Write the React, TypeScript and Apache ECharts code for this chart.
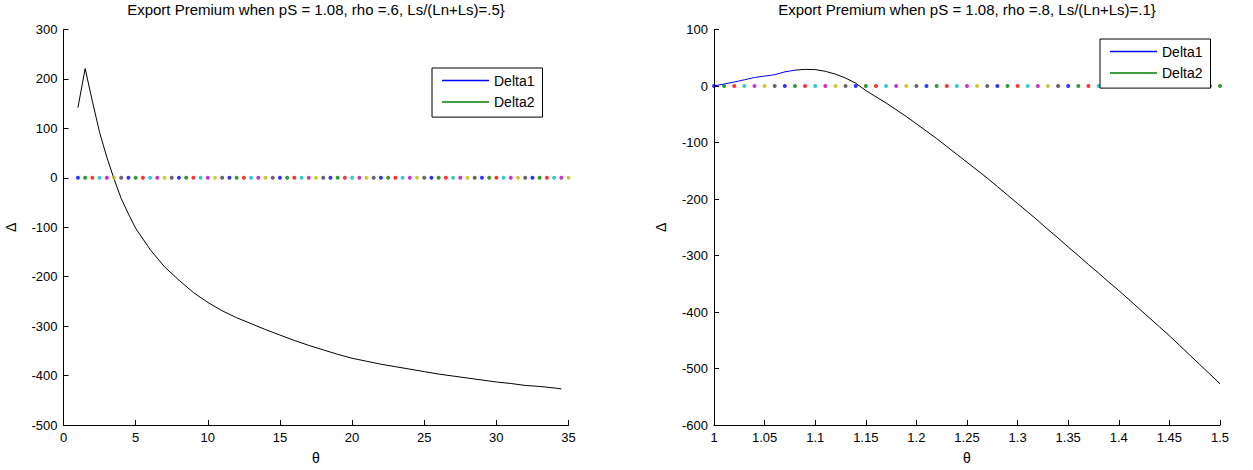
import React, { useEffect, useRef } from "react";
import * as echarts from "echarts";

// ---------- Data ----------
const leftTheta = [1, 1.5, 2, 2.5, 3, 3.5, 4, 4.5, 5, 6, 7, 8, 9, 10, 11, 12, 13, 14, 15, 16, 17, 18, 19, 20, 21, 22, 23, 24, 25, 26, 27, 28, 29, 30, 31, 32, 33, 34, 34.5];
const leftDelta = [142, 221, 155, 92, 42, -2, -42, -73, -102, -145, -180, -207, -232, -252, -269, -283, -295, -307, -318, -329, -339, -348, -357, -365, -371, -377, -382, -387, -392, -397, -401, -405, -409, -413, -416, -420, -422, -425, -427];

const rightBlueTheta = [1.0, 1.01, 1.02, 1.03, 1.04, 1.05, 1.06, 1.07, 1.08];
const rightBlueDelta = [0, 3.5, 7, 11, 15, 17.5, 20, 25, 28];

const rightTheta = [1.08, 1.09, 1.1, 1.11, 1.12, 1.13, 1.14, 1.15, 1.16, 1.17, 1.18, 1.19, 1.2, 1.21, 1.22, 1.23, 1.24, 1.25, 1.26, 1.27, 1.28, 1.29, 1.3, 1.31, 1.32, 1.33, 1.34, 1.35, 1.36, 1.37, 1.38, 1.39, 1.4, 1.41, 1.42, 1.43, 1.44, 1.45, 1.46, 1.47, 1.48, 1.49, 1.5];
const rightDelta = [28, 29.5, 29, 26, 21, 14, 5, -8, -19, -30, -42, -54, -67, -80, -93, -107, -121, -135, -149, -163, -178, -193, -208, -223, -238, -254, -269, -285, -300, -316, -331, -347, -362, -378, -394, -410, -426, -442, -459, -476, -493, -510, -527];

// Dotted zero-level markers (MATLAB 'bgrcmyk' colour order)
const dotColors = ["#0000ff", "#008000", "#ff0000", "#00bfbf", "#bf00bf", "#bfbf00", "#404040"];
const dotLevel = 0;
const leftDotStart = 1;
const leftDotStep = 0.5;
const leftDotCount = 69;
const rightDotStart = 1;
const rightDotStep = 0.01;
const rightDotCount = 51;

const leftXTicks = { min: 0, max: 35, interval: 5 };
const leftYTicks = { min: -500, max: 300, interval: 100 };
const rightXTicks = { min: 1, max: 1.5, interval: 0.05 };
const rightYTicks = { min: -600, max: 100, interval: 100 };

const leftTitle = "Export Premium when pS = 1.08, rho =.6, Ls/(Ln+Ls)=.5}";
const rightTitle = "Export Premium when pS = 1.08, rho =.8, Ls/(Ln+Ls)=.1}";
const legendNames = ["Delta1", "Delta2"];

const FONT = "'Liberation Sans', Arial, sans-serif";

function dots(start: number, step: number, count: number) {
  return Array.from({ length: count }, (_, i) => ({
    value: [Math.round((start + i * step) * 1000) / 1000, dotLevel],
    itemStyle: { color: dotColors[i % dotColors.length] },
  }));
}

function pairs(xs: number[], ys: number[]) {
  return xs.map((x, i) => [x, ys[i]]);
}

function xAxis(idx: number, t: { min: number; max: number; interval: number }, fmt?: (v: number) => string) {
  return {
    type: "value",
    gridIndex: idx,
    min: t.min,
    max: t.max,
    interval: t.interval,
    name: "θ",
    nameLocation: "middle",
    nameGap: 26,
    nameTextStyle: { fontSize: 14, color: "#000", fontFamily: FONT },
    splitLine: { show: false },
    axisLine: { show: true, onZero: false, lineStyle: { color: "#000", width: 1 } },
    axisTick: { show: true, inside: true, length: 5, lineStyle: { color: "#000" } },
    axisLabel: { color: "#000", fontSize: 13, fontFamily: FONT, margin: 6, formatter: fmt, showMinLabel: true, showMaxLabel: true },
  };
}

function yAxis(idx: number, t: { min: number; max: number; interval: number }) {
  return {
    type: "value",
    gridIndex: idx,
    min: t.min,
    max: t.max,
    interval: t.interval,
    name: "Δ",
    nameLocation: "middle",
    nameGap: 46,
    nameTextStyle: { fontSize: 14, color: "#000", fontFamily: FONT },
    splitLine: { show: false },
    axisLine: { show: true, onZero: false, lineStyle: { color: "#000", width: 1 } },
    axisTick: { show: true, inside: true, length: 5, lineStyle: { color: "#000" } },
    axisLabel: { color: "#000", fontSize: 13, fontFamily: FONT, margin: 6, showMinLabel: true, showMaxLabel: true },
  };
}

function legend(left: number, top: number) {
  return {
    data: legendNames,
    left,
    top,
    orient: "vertical",
    icon: "rect",
    itemWidth: 47,
    itemHeight: 1.5,
    itemGap: 6.6,
    itemTextGap: 6,
    padding: [5, 8, 7.5, 10],
    backgroundColor: "#fff",
    borderColor: "#000",
    borderWidth: 1,
    borderRadius: 0,
    selectedMode: false,
    textStyle: { fontSize: 14, lineHeight: 15, color: "#000", fontFamily: FONT },
  };
}

export default function App() {
  const ref = useRef<HTMLDivElement>(null);

  useEffect(() => {
    document.body.style.margin = "0";
    if (!ref.current) return;
    const chart = echarts.init(ref.current, undefined, { renderer: "svg" });
    const option = {
      animation: false,
      backgroundColor: "#fff",
      title: [
        { text: leftTitle, left: 316, top: 2, textAlign: "center", padding: 0, textStyle: { fontSize: 15, fontWeight: "normal", color: "#000", fontFamily: FONT } },
        { text: rightTitle, left: 967, top: 2, textAlign: "center", padding: 0, textStyle: { fontSize: 15, fontWeight: "normal", color: "#000", fontFamily: FONT } },
      ],
      legend: [legend(432, 68), legend(1100, 39)],
      grid: [
        { left: 63.5, top: 29.5, width: 505, height: 400, containLabel: false },
        { left: 714, top: 29.5, width: 506, height: 400, containLabel: false },
      ],
      xAxis: [
        xAxis(0, leftXTicks),
        xAxis(1, rightXTicks, (v: number) => String(Math.round(v * 100) / 100)),
      ],
      yAxis: [yAxis(0, leftYTicks), yAxis(1, rightYTicks)],
      series: [
        { name: "curveL", type: "line", xAxisIndex: 0, yAxisIndex: 0, data: pairs(leftTheta, leftDelta), symbol: "none", lineStyle: { color: "#000", width: 1 }, itemStyle: { color: "#000" }, z: 2 },
        { name: "dotsL", type: "scatter", xAxisIndex: 0, yAxisIndex: 0, data: dots(leftDotStart, leftDotStep, leftDotCount), symbol: "circle", symbolSize: 4, z: 3 },
        { name: "curveR", type: "line", xAxisIndex: 1, yAxisIndex: 1, data: pairs(rightTheta, rightDelta), symbol: "none", lineStyle: { color: "#000", width: 1 }, itemStyle: { color: "#000" }, z: 2 },
        { name: "Delta1", type: "line", xAxisIndex: 1, yAxisIndex: 1, data: pairs(rightBlueTheta, rightBlueDelta), symbol: "none", lineStyle: { color: "#0000ff", width: 1 }, itemStyle: { color: "#0000ff" }, z: 2 },
        { name: "Delta2", type: "line", xAxisIndex: 1, yAxisIndex: 1, data: [], symbol: "none", lineStyle: { color: "#008000", width: 1 }, itemStyle: { color: "#008000" }, z: 2 },
        { name: "dotsR", type: "scatter", xAxisIndex: 1, yAxisIndex: 1, data: dots(rightDotStart, rightDotStep, rightDotCount), symbol: "circle", symbolSize: 4, z: 3 },
      ],
    };
    chart.setOption(option as any);
    return () => chart.dispose();
  }, []);

  return <div ref={ref} style={{ width: 1253, height: 470 }} />;
}
